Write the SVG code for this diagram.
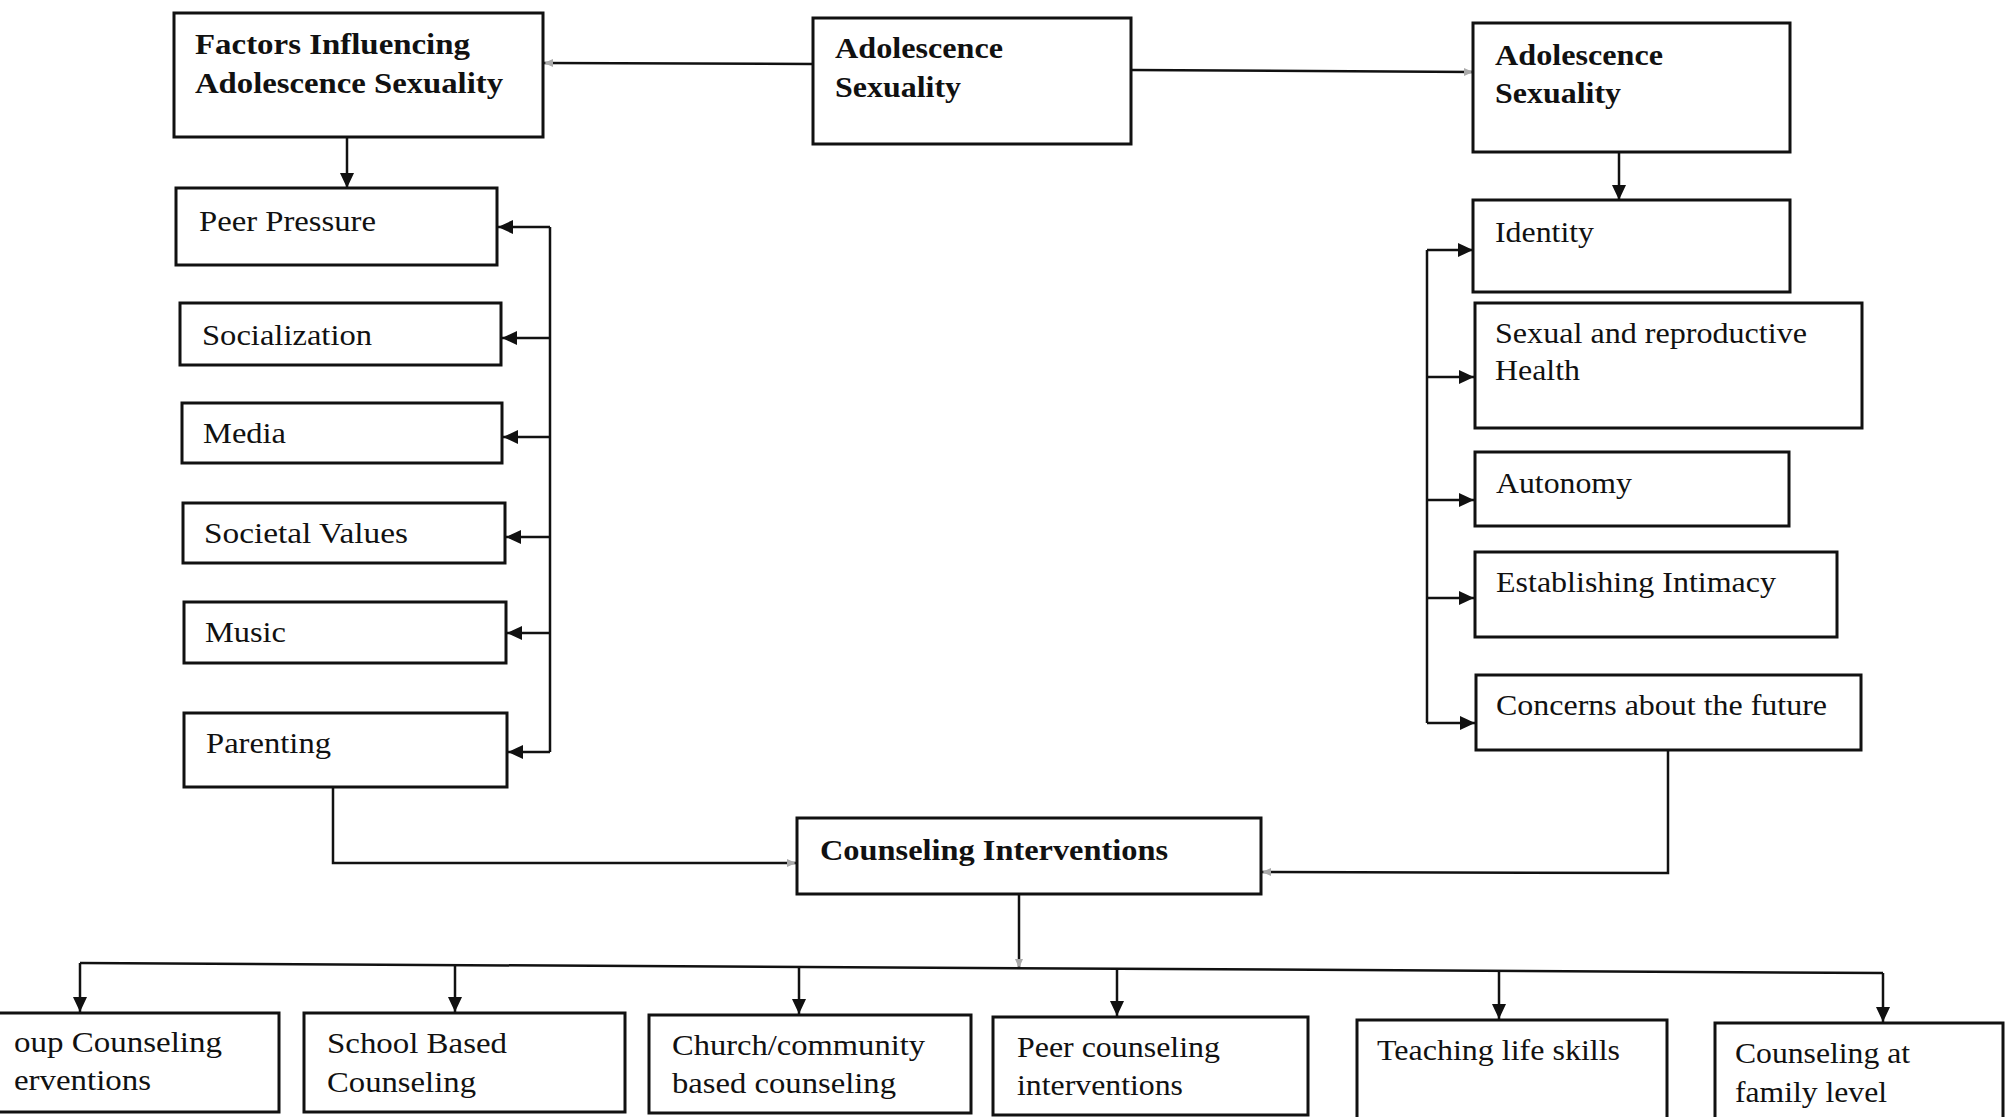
<svg xmlns="http://www.w3.org/2000/svg" width="2007" height="1117" viewBox="0 0 2007 1117">
<style>
.box{fill:#fff;stroke:#111;stroke-width:3}
.t{font-family:"Liberation Serif","Times New Roman",serif;font-size:30px;fill:#111}
.b{font-weight:bold}
.c{fill:none;stroke:#111;stroke-width:2.5}
</style>
<defs>
<marker id="ar" markerUnits="userSpaceOnUse" markerWidth="16" markerHeight="14" refX="15" refY="7" orient="auto">
<path d="M0,0 L15,7 L0,14 z" fill="#111"/>
</marker>
<marker id="fa" markerUnits="userSpaceOnUse" markerWidth="10" markerHeight="10" refX="9" refY="5" orient="auto">
<path d="M0,1 L9,5 L0,9 z" fill="#aaa"/>
</marker>
</defs>
<rect width="2007" height="1117" fill="#fff"/>

<g id="connectors">
<path class="c" d="M813,64 L544,63" marker-end="url(#fa)"/>
<path class="c" d="M1131,70 L1473,72" marker-end="url(#fa)"/>
<path class="c" d="M347,138 L347,188" marker-end="url(#ar)"/>
<path class="c" d="M1619,152 L1619,200" marker-end="url(#ar)"/>
<path class="c" d="M550,227 L550,752"/>
<path class="c" d="M550,227 L498,227" marker-end="url(#ar)"/>
<path class="c" d="M550,338 L502,338" marker-end="url(#ar)"/>
<path class="c" d="M550,437 L503,437" marker-end="url(#ar)"/>
<path class="c" d="M550,537 L506,537" marker-end="url(#ar)"/>
<path class="c" d="M550,633 L507,633" marker-end="url(#ar)"/>
<path class="c" d="M550,752 L508,752" marker-end="url(#ar)"/>
<path class="c" d="M1427,250 L1427,723"/>
<path class="c" d="M1427,250 L1473,250" marker-end="url(#ar)"/>
<path class="c" d="M1427,377 L1474,377" marker-end="url(#ar)"/>
<path class="c" d="M1427,500 L1474,500" marker-end="url(#ar)"/>
<path class="c" d="M1427,598 L1474,598" marker-end="url(#ar)"/>
<path class="c" d="M1427,723 L1475,723" marker-end="url(#ar)"/>
<path class="c" d="M333,787 L333,863 L796,863" marker-end="url(#fa)"/>
<path class="c" d="M1668,750 L1668,873 L1262,872" marker-end="url(#fa)"/>
<path class="c" d="M1019,895 L1019,968" marker-end="url(#fa)"/>
<path class="c" d="M80,963 L1883,973"/>
<path class="c" d="M80,963 L80,1012" marker-end="url(#ar)"/>
<path class="c" d="M455,965 L455,1012" marker-end="url(#ar)"/>
<path class="c" d="M799,967 L799,1014" marker-end="url(#ar)"/>
<path class="c" d="M1117,969 L1117,1016" marker-end="url(#ar)"/>
<path class="c" d="M1499,971 L1499,1019" marker-end="url(#ar)"/>
<path class="c" d="M1883,973 L1883,1022" marker-end="url(#ar)"/>
</g>

<g id="factors">
<rect class="box" x="174" y="13" width="369" height="124"/>
<text class="t b" x="195" y="54" textLength="275" lengthAdjust="spacingAndGlyphs">Factors Influencing</text>
<text class="t b" x="195" y="93" textLength="308" lengthAdjust="spacingAndGlyphs">Adolescence Sexuality</text>
</g>
<g id="adolescence-mid">
<rect class="box" x="813" y="18" width="318" height="126"/>
<text class="t b" x="835" y="58" textLength="168" lengthAdjust="spacingAndGlyphs">Adolescence</text>
<text class="t b" x="835" y="97" textLength="126" lengthAdjust="spacingAndGlyphs">Sexuality</text>
</g>
<g id="adolescence-right">
<rect class="box" x="1473" y="23" width="317" height="129"/>
<text class="t b" x="1495" y="65" textLength="168" lengthAdjust="spacingAndGlyphs">Adolescence</text>
<text class="t b" x="1495" y="103" textLength="126" lengthAdjust="spacingAndGlyphs">Sexuality</text>
</g>

<g id="peer-pressure">
<rect class="box" x="176" y="188" width="321" height="77"/>
<text class="t" x="199" y="231" textLength="177" lengthAdjust="spacingAndGlyphs">Peer Pressure</text>
</g>
<g id="socialization">
<rect class="box" x="180" y="303" width="321" height="62"/>
<text class="t" x="202" y="345" textLength="170" lengthAdjust="spacingAndGlyphs">Socialization</text>
</g>
<g id="media">
<rect class="box" x="182" y="403" width="320" height="60"/>
<text class="t" x="203" y="443" textLength="83" lengthAdjust="spacingAndGlyphs">Media</text>
</g>
<g id="societal-values">
<rect class="box" x="183" y="503" width="322" height="60"/>
<text class="t" x="204" y="543" textLength="204" lengthAdjust="spacingAndGlyphs">Societal Values</text>
</g>
<g id="music">
<rect class="box" x="184" y="602" width="322" height="61"/>
<text class="t" x="205" y="642" textLength="81" lengthAdjust="spacingAndGlyphs">Music</text>
</g>
<g id="parenting">
<rect class="box" x="184" y="713" width="323" height="74"/>
<text class="t" x="206" y="753" textLength="125" lengthAdjust="spacingAndGlyphs">Parenting</text>
</g>

<g id="identity">
<rect class="box" x="1473" y="200" width="317" height="92"/>
<text class="t" x="1495" y="242" textLength="99" lengthAdjust="spacingAndGlyphs">Identity</text>
</g>
<g id="sexual-health">
<rect class="box" x="1475" y="303" width="387" height="125"/>
<text class="t" x="1495" y="343" textLength="312" lengthAdjust="spacingAndGlyphs">Sexual and reproductive</text>
<text class="t" x="1495" y="380" textLength="85" lengthAdjust="spacingAndGlyphs">Health</text>
</g>
<g id="autonomy">
<rect class="box" x="1475" y="452" width="314" height="74"/>
<text class="t" x="1496" y="493" textLength="136" lengthAdjust="spacingAndGlyphs">Autonomy</text>
</g>
<g id="intimacy">
<rect class="box" x="1475" y="552" width="362" height="85"/>
<text class="t" x="1496" y="592" textLength="280" lengthAdjust="spacingAndGlyphs">Establishing Intimacy</text>
</g>
<g id="concerns">
<rect class="box" x="1476" y="675" width="385" height="75"/>
<text class="t" x="1496" y="715" textLength="331" lengthAdjust="spacingAndGlyphs">Concerns about the future</text>
</g>

<g id="counseling-interventions">
<rect class="box" x="797" y="818" width="464" height="76"/>
<text class="t b" x="820" y="860" textLength="348" lengthAdjust="spacingAndGlyphs">Counseling Interventions</text>
</g>

<g id="group-counseling">
<rect class="box" x="-20" y="1013" width="299" height="99"/>
<text class="t" x="14" y="1052" textLength="208" lengthAdjust="spacingAndGlyphs">oup Counseling</text>
<text class="t" x="14" y="1090" textLength="137" lengthAdjust="spacingAndGlyphs">erventions</text>
</g>
<g id="school-based">
<rect class="box" x="304" y="1013" width="321" height="99"/>
<text class="t" x="327" y="1053" textLength="180" lengthAdjust="spacingAndGlyphs">School Based</text>
<text class="t" x="327" y="1092" textLength="149" lengthAdjust="spacingAndGlyphs">Counseling</text>
</g>
<g id="church-community">
<rect class="box" x="649" y="1015" width="322" height="98"/>
<text class="t" x="672" y="1055" textLength="253" lengthAdjust="spacingAndGlyphs">Church/community</text>
<text class="t" x="672" y="1093" textLength="224" lengthAdjust="spacingAndGlyphs">based counseling</text>
</g>
<g id="peer-counseling">
<rect class="box" x="993" y="1017" width="315" height="98"/>
<text class="t" x="1017" y="1057" textLength="203" lengthAdjust="spacingAndGlyphs">Peer counseling</text>
<text class="t" x="1017" y="1095" textLength="166" lengthAdjust="spacingAndGlyphs">interventions</text>
</g>
<g id="life-skills">
<rect class="box" x="1357" y="1020" width="310" height="110"/>
<text class="t" x="1377" y="1060" textLength="243" lengthAdjust="spacingAndGlyphs">Teaching life skills</text>
</g>
<g id="family-level">
<rect class="box" x="1715" y="1023" width="288" height="110"/>
<text class="t" x="1735" y="1063" textLength="175" lengthAdjust="spacingAndGlyphs">Counseling at</text>
<text class="t" x="1735" y="1102" textLength="152" lengthAdjust="spacingAndGlyphs">family level</text>
</g>
</svg>
